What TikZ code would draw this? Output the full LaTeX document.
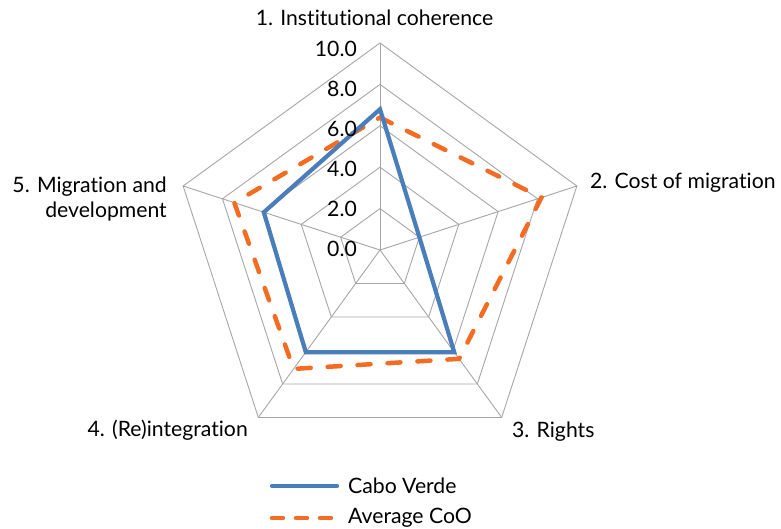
\documentclass[tikz,border=0pt]{standalone}
\usepackage{fontspec}
\setmainfont{Lato}[Ligatures=NoCommon]
\usetikzlibrary{positioning}
\definecolor{cvblue}{HTML}{4A7EBB}
\definecolor{cooorange}{HTML}{F36C21}
\definecolor{gridgray}{HTML}{A6A6A6}
\tikzset{
  gridline/.style={gridgray, line width=0.9pt},
  cvline/.style={cvblue, line width=4.2pt, line join=miter},
  cooline/.style={cooorange, line width=4.5pt, line cap=round, line join=miter, dash pattern=on 13pt off 17pt},
  chartlabel/.style={font=\fontsize{21.2}{25}\selectfont, inner sep=0pt},
}

\begin{document}
\begin{tikzpicture}[x=1pt,y=1pt]
\useasboundingbox (-380,-279) rectangle (401,250);

\begin{scope}[x=20.7pt,y=20.7pt]
% grid
\foreach \v in {2,4,...,10}
  \draw[gridline] (90:\v) -- (18:\v) -- (-54:\v) -- (-126:\v) -- (162:\v) -- cycle;
\foreach \a in {90,18,-54,-126,162}
  \draw[gridline] (0,0) -- (\a:10);

% series
\draw[cooline] (90:6.4) -- (18:8.2) -- (-54:6.5) -- (-126:7.1) -- (162:7.4) -- cycle;
\draw[cvline] (90:6.8) -- (18:2.0) -- (-54:6.1) -- (-126:6.1) -- (162:5.9) -- cycle;
\end{scope}

% scale
\foreach \v in {0,2,...,10}
  \node[chartlabel, anchor=base east] (tick\v) at (-23,20*\v-7) {\v.0};

% axes
\node[chartlabel, anchor=base] (ax1) at (-5.5,224) {1. Institutional coherence};
\node[chartlabel, anchor=base west] (ax2) at (210,61) {2. Cost of migration};
\node[chartlabel, anchor=base west] (ax3) at (132,-188) {3. Rights};
\node[chartlabel, anchor=base east] (ax4) at (-132,-187) {4. (Re)integration};
\node[chartlabel, anchor=base east] (ax5a) at (-213,57) {5. Migration and};
\node[chartlabel, anchor=base east] (ax5b) at (-213,32) {development};

% legend
\coordinate (cvA) at (-108,-236);
\coordinate (cvB) at (-43,-236);
\coordinate (cooA) at (-108,-268);
\coordinate (cooB) at (-43,-268);
\draw[cvline, line cap=round] (cvA) -- (cvB);
\draw[cooline, dash pattern=on 11pt off 13pt] (cooA) -- (cooB);
\node[chartlabel, anchor=base west] (cv) at (-32,-243) {Cabo Verde};
\node[chartlabel, anchor=base west] (coo) at (-32,-273) {Average CoO};
\end{tikzpicture}
\end{document}
